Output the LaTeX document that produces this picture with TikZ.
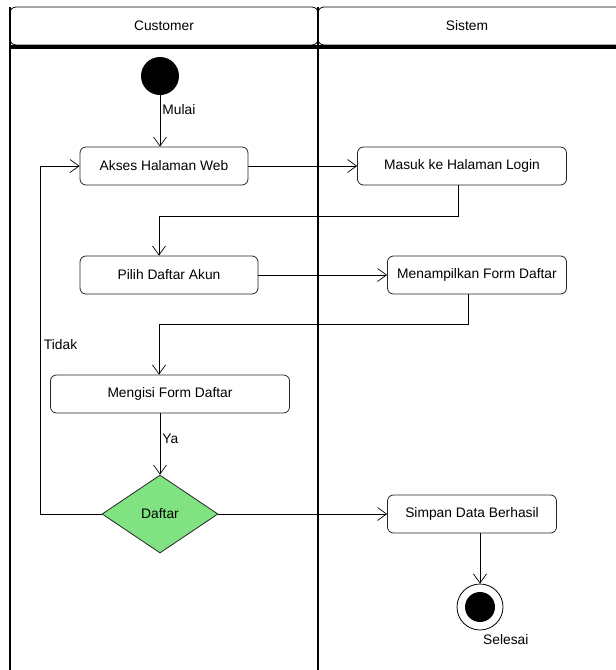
\documentclass[tikz,border=0pt]{standalone}
\usepackage{fontspec}
\setmainfont{Liberation Sans}
\usetikzlibrary{shapes.geometric}
\usetikzlibrary{arrows.meta, positioning}
\definecolor{daftargreen}{RGB}{128, 226, 128}
\tikzset{
  action/.style={draw=black!85, line width=0.8pt, rounded corners=6pt,
    minimum height=38pt, align=center},
  keputusan/.style={diamond, draw=black!85, line width=0.8pt, fill=daftargreen,
    minimum width=116pt, minimum height=78pt, inner sep=0pt},
  alur/.style={-{Straight Barb[length=9pt,width=13pt]}, line width=0.7pt},
  lane/.style={line width=1.3pt}
}

\begin{document}
\begin{tikzpicture}[x=1pt, y=-1pt, font=\fontsize{13.8}{16}\selectfont]
            \useasboundingbox (0,0) rectangle (616,670);

            % Draw the swimlanes
            \draw[line width=0.8pt, rounded corners=6pt] (10,7) rectangle (318,45);
            \draw[line width=0.8pt, rounded corners=6pt] (616,45) -- (318,45) -- (318,7) -- (616,7);
            \draw[line width=4pt] (10,47) -- (616,47);
            \draw[lane] (10,7) -- (10,670);
            \draw[lane] (318,7) -- (318,670);
            \node (customer) at (164,26) {Customer};
            \node (sistem) at (467,26) {Sistem};

            % Start and end
            \node[circle, fill=black, minimum size=38pt, inner sep=0pt] (start) at (160,76) {};
            \node[circle, draw, line width=0.8pt, minimum size=46pt, inner sep=0pt] (end) at (480,607) {};
            \fill (end.center) circle (15pt);
            \node[anchor=north west, inner sep=1pt] (selesai) at (482,633) {Selesai};

            % Actions
            \node[action, minimum width=168pt] (akses) at (164,166) {Akses Halaman Web};
            \node[action, minimum width=209pt] (login) at (462,166) {Masuk ke Halaman Login};
            \node[action, minimum width=178pt] (pilih) at (169,275) {Pilih Daftar Akun};
            \node[action, minimum width=179pt] (form) at (477,275) {Menampilkan Form Daftar};
            \node[action, minimum width=239pt] (isi) at (170,394) {Mengisi Form Daftar};
            \node[keputusan] (daftar) at (160,514) {Daftar};
            \node[action, minimum width=169pt] (simpan) at (472,514) {Simpan Data Berhasil};

            % Flows
            \draw[alur] (start.south) -- (start.south |- akses.north)
                node[pos=0.28, right, inner sep=2pt] {Mulai};
            \draw[alur] (akses) -- (login);
            \draw[alur] ([xshift=-4pt]login.south) -- ++(0,31) -| ([xshift=-10pt]pilih.north);
            \draw[alur] (pilih) -- (form);
            \draw[alur] ([xshift=-9pt]form.south) -- ++(0,30) -| ([xshift=-11pt]isi.north);
            \draw[alur] (daftar.north |- isi.south) -- (daftar.north)
                node[pos=0.42, right, inner sep=2pt] {Ya};
            \draw[alur] (daftar.west) -- ++(-61,0) |- (akses.west)
                node[pos=0.243, right, inner sep=3pt] {Tidak};
            \draw[alur] (daftar.east) -- (simpan.west);
            \draw[alur] (end.north |- simpan.south) -- (end.north);
        \end{tikzpicture}
\end{document}
